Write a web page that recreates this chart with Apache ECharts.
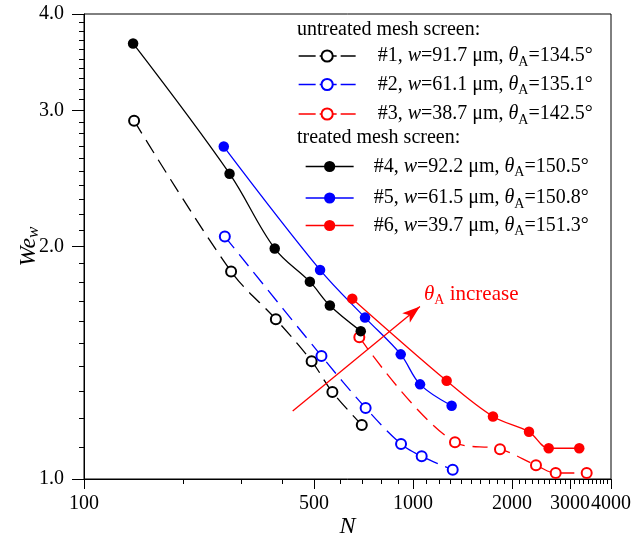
<!DOCTYPE html>
<html>
<head>
<meta charset="utf-8">
<script src="https://cdn.jsdelivr.net/npm/echarts@6/dist/echarts.min.js"></script>
<style>
html,body{margin:0;padding:0;background:#fff;}
#chart{width:636px;height:545px;}
</style>
</head>
<body>
<div id="chart"></div>
<script>
// ---- data ----
const s1N = [142, 280, 383, 492, 569, 699];
const s1V = [2.91, 1.857, 1.61, 1.421, 1.296, 1.175];
const s2N = [268, 527, 718, 920, 1063, 1321];
const s2V = [2.06, 1.443, 1.236, 1.11, 1.07, 1.028];
const s3N = [687, 1342, 1839, 2366, 2716, 3374];
const s3V = [1.526, 1.116, 1.093, 1.042, 1.018, 1.018];
const s4N = [141, 277, 380, 486, 559, 694];
const s4V = [3.664, 2.485, 1.988, 1.801, 1.677, 1.554];
const s5N = [266, 522, 715, 918, 1051, 1311];
const s5V = [2.694, 1.865, 1.618, 1.45, 1.326, 1.244];
const s6N = [654, 1266, 1751, 2253, 2586, 3203];
const s6V = [1.712, 1.34, 1.205, 1.151, 1.096, 1.096];

const seriesNames = ['#1', '#2', '#3', '#4', '#5', '#6'];
const widths = ['91.7', '61.1', '38.7', '92.2', '61.5', '39.7'];
const angles = ['134.5', '135.1', '142.5', '150.5', '150.8', '151.3'];
const headers = ['untreated mesh screen:', 'treated mesh screen:'];

const xMajorTicks = [100, 500, 1000, 2000, 3000, 4000];
const yMajorTicks = [1.0, 2.0, 3.0, 4.0];
const xMinorTicks = [];
for (let v = 200; v < 4000; v += 100) if (xMajorTicks.indexOf(v) < 0) xMinorTicks.push(v);
const yMinorTicks = [];
for (let k = 11; k < 40; k++) if (k % 10 !== 0) yMinorTicks.push(Math.round(k) / 10);

const arrowStart = [431, 1.225];
const arrowEnd = [1050, 1.672];

// ---- chart ----
const FONT = '"Liberation Serif", "Times New Roman", serif';
const chart = echarts.init(document.getElementById('chart'));

function pairs(xs, ys) { return xs.map((x, i) => [x, ys[i]]); }
const colors = ['#000000', '#0000ff', '#ff0000', '#000000', '#0000ff', '#ff0000'];
const dataSets = [pairs(s1N, s1V), pairs(s2N, s2V), pairs(s3N, s3V), pairs(s4N, s4V), pairs(s5N, s5V), pairs(s6N, s6V)];

const series = dataSets.map((d, i) => {
  const open = i < 3;
  const s = {
    name: seriesNames[i],
    type: 'line',
    data: d,
    xAxisIndex: 0, yAxisIndex: 0,
    smooth: 0.35,
    symbol: open ? 'emptyCircle' : 'circle',
    symbolSize: open ? 10 : 10.5,
    showAllSymbol: true,
    lineStyle: { color: colors[i], width: 1.3, type: open ? [15, 8] : 'solid' },
    itemStyle: { color: colors[i], borderColor: colors[i], borderWidth: open ? 1.1 : 0 },
    emphasis: { disabled: true },
    silent: true,
    z: open ? 2 : 3
  };
  if (i === 5) {
    s.markLine = {
      silent: true,
      symbol: ['none', 'arrow'],
      symbolSize: [9, 18],
      lineStyle: { color: '#ff0000', width: 1.3, type: 'solid' },
      label: { show: false },
      data: [[{ coord: arrowStart }, { coord: arrowEnd }]]
    };
  }
  return s;
});

const legendRich = {
  sp1: { width: 17 },
  sp2: { width: 15 },
  n: { fontFamily: FONT, fontSize: 20, color: '#000' },
  i: { fontFamily: FONT, fontSize: 20, fontStyle: 'italic', color: '#000' },
  s: { fontFamily: FONT, fontSize: 14, color: '#000', padding: [12, 0, 0, 0] }
};
const legendTops = [46, 74.5, 104, 156.5, 188, 215.5];
const legends = seriesNames.map((nm, i) => {
  const open = i < 3;
  return {
    show: true,
    selectedMode: false,
    orient: 'vertical',
    left: open ? 298 : 305,
    top: legendTops[i],
    padding: 0,
    itemWidth: open ? 57 : 48,
    itemHeight: 14,
    data: [{
      name: nm,
      lineStyle: open ? { type: [17, 4, 17, 4, 17, 60], width: 1.3 } : { type: 'solid', width: 1.3 }
    }],
    formatter: function () {
      return '{' + (open ? 'sp1' : 'sp2') + '|}{n|' + nm + ', }{i|w}{n|=' + widths[i] + ' μm, }{i|θ}{s|A}{n|=' + angles[i] + '°}';
    },
    textStyle: { rich: legendRich, fontFamily: FONT, fontSize: 20, color: '#000' }
  };
});

const tickLabelRich = { a: { fontFamily: FONT, fontSize: 20, color: '#000' } };

const option = {
  animation: false,
  backgroundColor: '#fff',
  textStyle: { fontFamily: FONT, color: '#000' },
  grid: { left: 84, right: 25, top: 14, bottom: 66, show: true, borderColor: '#000', borderWidth: 1,
    backgroundColor: 'transparent', containLabel: false, outerBoundsMode: 'none' },
  legend: legends,
  xAxis: [
    {
      type: 'log', logBase: 10, min: 100, max: 4000, position: 'bottom',
      name: 'N', nameLocation: 'middle', nameGap: 36, nameMoveOverlap: false,
      nameTextStyle: { fontFamily: FONT, fontSize: 24, fontStyle: 'italic', color: '#000' },
      axisLine: { show: true, lineStyle: { color: '#000', width: 1 } },
      axisTick: { show: true, inside: false, length: 10, customValues: xMajorTicks, lineStyle: { color: '#000', width: 1 } },
      axisLabel: { show: true, customValues: xMajorTicks, margin: 15, fontFamily: FONT, fontSize: 20, color: '#000',
        rich: tickLabelRich, hideOverlap: false,
        formatter: v => '{a|' + String(Math.round(v)) + '}' },
      splitLine: { show: false }, minorTick: { show: false }, minorSplitLine: { show: false }
    },
    {
      type: 'log', logBase: 10, min: 100, max: 4000, position: 'bottom', gridIndex: 0,
      axisLine: { show: false },
      axisTick: { show: true, inside: false, length: 5, customValues: xMinorTicks, lineStyle: { color: '#000', width: 1 } },
      axisLabel: { show: false },
      splitLine: { show: false }
    }
  ],
  yAxis: [
    {
      type: 'log', logBase: 10, min: 1, max: 4, position: 'left',
      name: '{i|We}{s|w}', nameLocation: 'middle', nameGap: 42, nameRotate: 90, nameMoveOverlap: false,
      nameTextStyle: { rich: {
        i: { fontFamily: FONT, fontSize: 24, fontStyle: 'italic', color: '#000' },
        s: { fontFamily: FONT, fontSize: 17, fontStyle: 'italic', color: '#000', padding: [10, 0, 0, 0] }
      } },
      axisLine: { show: true, lineStyle: { color: '#000', width: 1 } },
      axisTick: { show: true, inside: false, length: 12, customValues: yMajorTicks, lineStyle: { color: '#000', width: 1 } },
      axisLabel: { show: true, customValues: yMajorTicks, margin: 20, fontFamily: FONT, fontSize: 20, color: '#000',
        rich: tickLabelRich,
        formatter: v => '{a|' + Number(v).toFixed(1) + '}' },
      splitLine: { show: false }, minorTick: { show: false }, minorSplitLine: { show: false }
    },
    {
      type: 'log', logBase: 10, min: 1, max: 4, position: 'left', gridIndex: 0,
      axisLine: { show: false },
      axisTick: { show: true, inside: false, length: 5, customValues: yMinorTicks, lineStyle: { color: '#000', width: 1 } },
      axisLabel: { show: false },
      splitLine: { show: false }
    }
  ],
  graphic: [
    { type: 'text', style: { x: 297, y: 30, text: headers[0], verticalAlign: 'middle', fontFamily: FONT, fontSize: 20, fill: '#000' } },
    { type: 'text', style: { x: 297, y: 138, text: headers[1], verticalAlign: 'middle', fontFamily: FONT, fontSize: 20, fill: '#000' } },
    { type: 'text', style: { x: 424, y: 294, verticalAlign: 'middle',
        text: '{t|θ}{a|A}{r| increase}',
        rich: {
          t: { fontFamily: FONT, fontSize: 21, fontStyle: 'italic', fill: '#ff0000' },
          a: { fontFamily: FONT, fontSize: 14, fill: '#ff0000', padding: [12, 0, 0, 0] },
          r: { fontFamily: FONT, fontSize: 21, fill: '#ff0000' }
        } } }
  ],
  series: series
};
chart.setOption(option);
</script>
</body>
</html>
